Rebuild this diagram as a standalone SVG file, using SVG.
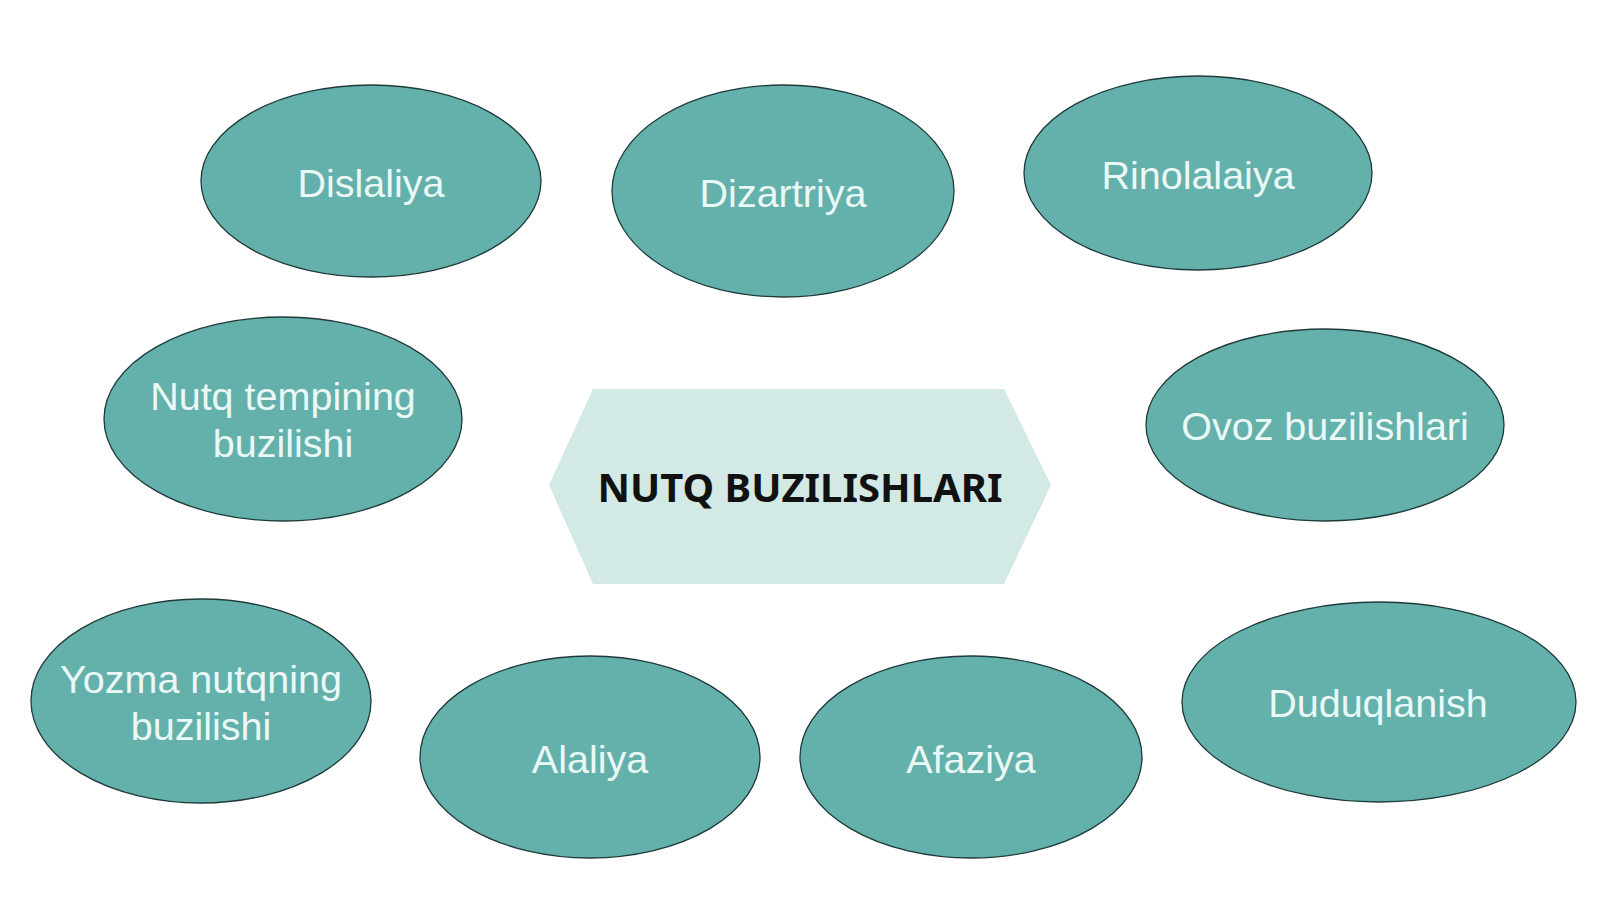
<svg xmlns="http://www.w3.org/2000/svg" width="1600" height="900" viewBox="0 0 1600 900">
<style>
.node ellipse{fill:#64b1ab;stroke:#1f3a3a;stroke-width:1.3}
.lbl{font-family:"Liberation Sans",Arial,sans-serif;font-size:39.5px;fill:#eaf8f6;text-anchor:middle}
.center-lbl{font-family:"Noto Sans","Open Sans",sans-serif;font-weight:bold;font-size:40px;fill:#111;text-anchor:middle}
</style>
<rect width="1600" height="900" fill="#ffffff"/>
<g id="connectors"></g>
<g id="center">
<polygon points="549,485 593,389 1004,389 1051,485 1004,584 593,584" fill="#d2e9e6"/>
<text class="center-lbl" x="800" y="502">NUTQ BUZILISHLARI</text>
</g>
<g id="dislaliya" class="node"><ellipse cx="371" cy="181" rx="170" ry="96"/><text class="lbl" x="371" y="197">Dislaliya</text></g>
<g id="dizartriya" class="node"><ellipse cx="783" cy="191" rx="171" ry="106"/><text class="lbl" x="783" y="207">Dizartriya</text></g>
<g id="rinolalaiya" class="node"><ellipse cx="1198" cy="173" rx="174" ry="97"/><text class="lbl" x="1198" y="189">Rinolalaiya</text></g>
<g id="nutq-tempi" class="node"><ellipse cx="283" cy="419" rx="179" ry="102"/><text class="lbl" x="283" y="410">Nutq tempining</text><text class="lbl" x="283" y="457">buzilishi</text></g>
<g id="ovoz" class="node"><ellipse cx="1325" cy="425" rx="179" ry="96"/><text class="lbl" x="1325" y="440">Ovoz buzilishlari</text></g>
<g id="yozma" class="node"><ellipse cx="201" cy="701" rx="170" ry="102"/><text class="lbl" x="201" y="693">Yozma nutqning</text><text class="lbl" x="201" y="740">buzilishi</text></g>
<g id="alaliya" class="node"><ellipse cx="590" cy="757" rx="170" ry="101"/><text class="lbl" x="590" y="773">Alaliya</text></g>
<g id="afaziya" class="node"><ellipse cx="971" cy="757" rx="171" ry="101"/><text class="lbl" x="971" y="773">Afaziya</text></g>
<g id="duduqlanish" class="node"><ellipse cx="1379" cy="702" rx="197" ry="100"/><text class="lbl" x="1378" y="717">Duduqlanish</text></g>
</svg>
